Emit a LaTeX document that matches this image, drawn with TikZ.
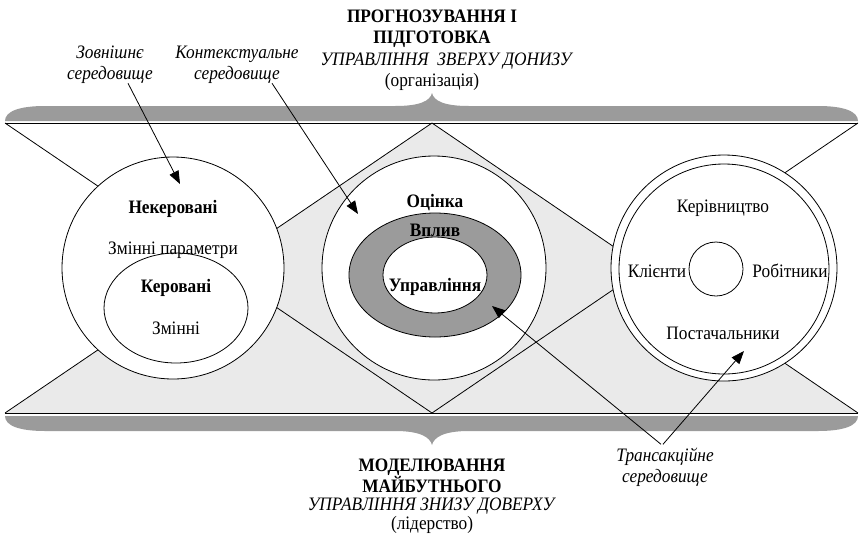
\documentclass[tikz,border=0pt]{standalone}
\usepackage{fontspec}
\setmainfont{Liberation Serif}
\usetikzlibrary{positioning}
\usetikzlibrary{shapes.geometric}
\usetikzlibrary{arrows.meta}

\definecolor{bandgray}{RGB}{155,155,155}
\definecolor{dotgray}{RGB}{234,234,234}
\newcommand{\nar}[1]{\scalebox{0.91}[1]{#1}}

\begin{document}
\begin{tikzpicture}[x=1pt,y=-1pt,
        thinline/.style={draw=black,line width=0.8pt},
        arr/.style={thinline,-{Triangle[length=13pt,width=10pt]}},
        disc/.style={circle,thinline,fill=white,inner sep=0pt},
        oval/.style={ellipse,thinline,fill=white,inner sep=0pt}]
    \useasboundingbox (0,0) rectangle (863,542);

    % corners of the band
    \coordinate (tl) at (5,123);
    \coordinate (tr) at (858,123);
    \coordinate (bl) at (5,413);
    \coordinate (br) at (858,413);
    \coordinate (tm) at (432,123);
    \coordinate (bm) at (432,413);

    \fill[dotgray] (bl) -- (tm) -- (br) -- cycle;
    \draw[thinline] (tl) -- (tr);
    \draw[thinline] (bl) -- (br);
    \draw[thinline] (tl) -- (bm) -- (tr);
    \draw[thinline] (bl) -- (tm) -- (br);

    % braces
    \fill[bandgray] (5,121) .. controls (5,111) and (20,106) .. (45,106) -- (395,106)
        .. controls (420,106) and (430,101) .. (432,93)
        .. controls (434,101) and (444,106) .. (469,106) -- (818,106)
        .. controls (843,106) and (858,111) .. (858,121) -- cycle;
    \fill[bandgray] (5,416) .. controls (5,426) and (20,431) .. (45,431) -- (395,431)
        .. controls (420,431) and (430,437) .. (432,445)
        .. controls (434,437) and (444,431) .. (469,431) -- (818,431)
        .. controls (843,431) and (858,426) .. (858,416) -- cycle;

    % circles
    \node[disc,minimum size=222pt] (outerL) at (173,268) {};
    \node[oval,minimum width=144pt,minimum height=110pt] (innerL) at (176,308) {};
    \node[disc,minimum size=224pt] (outerM) at (434,268) {};
    \node[oval,fill=bandgray,minimum width=172pt,minimum height=124pt] (ringM) at (435,275) {};
    \node[oval,minimum width=104pt,minimum height=76pt] (innerM) at (435,275) {};
    \node[disc,minimum size=226pt] (outerR) at (724,268) {};
    \node[disc,minimum size=210pt] (ringR) at (724,269) {};
    \node[disc,minimum size=54pt] (coreR) at (716,269) {};

    \begin{scope}[every node/.style={font=\fontsize{19}{21}\selectfont,inner sep=0pt,align=center,anchor=base}]
        \node (nekerov) at (173,213) {\nar{\textbf{Некеровані}}};
        \node (zminparam) at (173,254) {\nar{Змінні параметри}};
        \node (kerov) at (176,292) {\nar{\textbf{Керовані}}};
        \node (zmin) at (176,334) {\nar{Змінні}};
        \node (otsinka) at (435,207) {\nar{\textbf{Оцінка}}};
        \node (vplyv) at (435,236) {\nar{\textbf{Вплив}}};
        \node (upravl) at (435,291) {\nar{\textbf{Управління}}};
        \node (kerivn) at (723,212) {\nar{Керівництво}};
        \node (klienty) at (657,277) {\nar{Клієнти}};
        \node (robitn) at (790,277) {\nar{Робітники}};
        \node (postach) at (723,339) {\nar{Постачальники}};

        \node (progn) at (432,22) {\nar{\textbf{ПРОГНОЗУВАННЯ І}}};
        \node (pidgot) at (432,43) {\nar{\textbf{ПІДГОТОВКА}}};
        \node (zverkhu) at (447,65) {\nar{\textit{УПРАВЛІННЯ\ \ ЗВЕРХУ ДОНИЗУ}}};
        \node (orgn) at (432,86) {\nar{(організація)}};
        \node (model) at (432,471) {\nar{\textbf{МОДЕЛЮВАННЯ}}};
        \node (maibut) at (432,492) {\nar{\textbf{МАЙБУТНЬОГО}}};
        \node (znyzu) at (432,510) {\nar{\textit{УПРАВЛІННЯ ЗНИЗУ ДОВЕРХУ}}};
        \node (lider) at (432,529) {\nar{(лідерство)}};
        \node (zovn) at (110,79) {\nar{\textit{Зовнішнє}}\\\nar{\textit{середовище}}};
        \node (kontekst) at (237,79) {\nar{\textit{Контекстуальне}}\\\nar{\textit{середовище}}};
        \node (trans) at (665,482) {\nar{\textit{Трансакційне}}\\\nar{\textit{середовище}}};
    \end{scope}

    % arrow ends
    \coordinate (zovnTip) at (180,184);
    \coordinate (kontTip) at (358,214);
    \coordinate (upravTip) at (492,306);
    \coordinate (postTip) at (744,351);

    \path ([xshift=18pt]zovn.south) edge[arr] (zovnTip);
    \path ([xshift=35pt]kontekst.south) edge[arr] (kontTip);
    \path ([xshift=-4pt,yshift=3pt]trans.north) edge[arr] (upravTip);
    \path ([xshift=-2pt,yshift=3pt]trans.north) edge[arr] (postTip);
\end{tikzpicture}
\end{document}
